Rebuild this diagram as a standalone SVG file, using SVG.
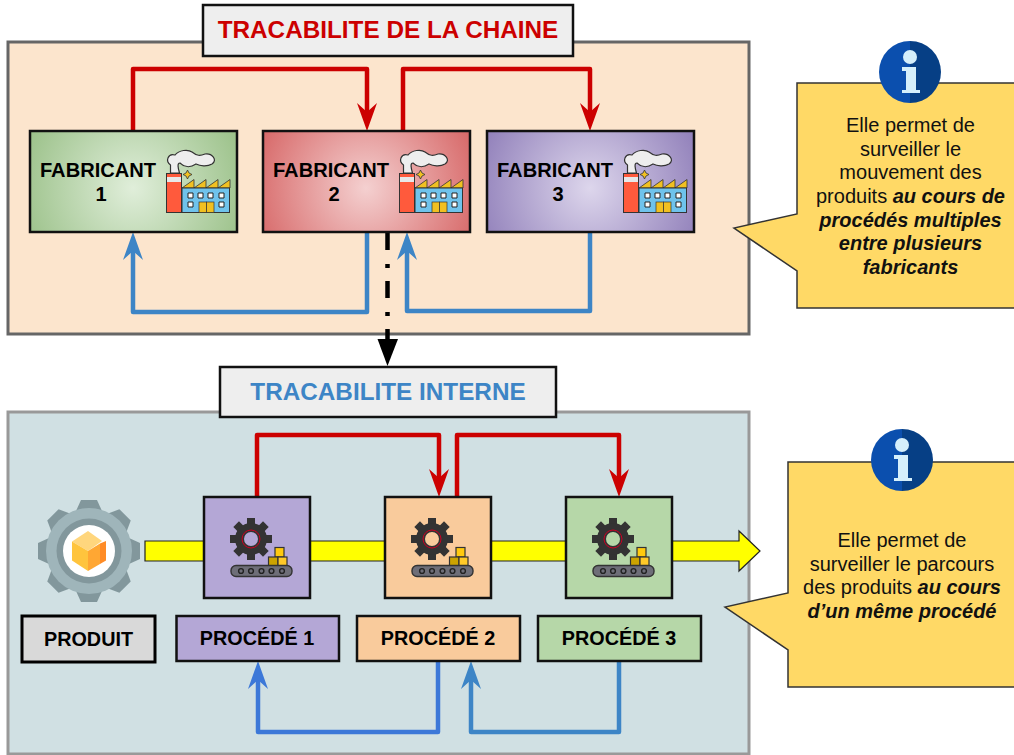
<svg xmlns="http://www.w3.org/2000/svg" width="1014" height="755" viewBox="0 0 1014 755">
<style>
text{font-family:"Liberation Sans",Arial,sans-serif;text-anchor:middle;fill:#000}
.title{font-size:24.300px;font-weight:bold}
.nodeT{font-size:20.100px;font-weight:bold}
.lab{font-size:19.800px;font-weight:bold}
.body{font-size:20px;fill:#111}
.em{font-weight:bold;font-style:italic}
.box{stroke:#111;stroke-width:2.500}
.r{fill:none;stroke:#cc0000;stroke-width:4.500;stroke-linejoin:round;marker-end:url(#ar)}
.b{fill:none;stroke:#3d85c6;stroke-width:4.500;stroke-linejoin:round;marker-end:url(#ab)}
.b2{fill:none;stroke:#3c78d8;stroke-width:4.500;stroke-linejoin:round;marker-end:url(#ab2)}
.call{fill:#ffd966;stroke:#333;stroke-width:1.500}
</style>
<defs>
<marker id="ar" markerUnits="userSpaceOnUse" markerWidth="30" markerHeight="22" viewBox="0 0 30 22" refX="10" refY="11" orient="auto"><path d="M0,1 L28,11 L0,21 L9,11 Z" fill="#cc0000"/></marker>
<marker id="ab" markerUnits="userSpaceOnUse" markerWidth="30" markerHeight="22" viewBox="0 0 30 22" refX="10" refY="11" orient="auto"><path d="M0,1 L28,11 L0,21 L9,11 Z" fill="#3d85c6"/></marker>
<marker id="ab2" markerUnits="userSpaceOnUse" markerWidth="30" markerHeight="22" viewBox="0 0 30 22" refX="10" refY="11" orient="auto"><path d="M0,1 L28,11 L0,21 L9,11 Z" fill="#3c78d8"/></marker>
<radialGradient id="g1" gradientUnits="userSpaceOnUse" cx="133" cy="188" r="118"><stop offset="0" stop-color="#e0eeda"/><stop offset="1" stop-color="#9bc189"/></radialGradient>
<radialGradient id="g2" gradientUnits="userSpaceOnUse" cx="366" cy="188" r="118"><stop offset="0" stop-color="#f4d0d0"/><stop offset="1" stop-color="#d76868"/></radialGradient>
<radialGradient id="g3" gradientUnits="userSpaceOnUse" cx="590" cy="188" r="118"><stop offset="0" stop-color="#ddd6ec"/><stop offset="1" stop-color="#9180ba"/></radialGradient>
<g id="factory">
<path d="M170.500,173 L170.500,165 C165,161 168,153 175,155 C179,150 188,149 192,152 C197,156 200,156 205,154 C212,153 218,160 212,164 C207,167 200,166 196,164 C190,168 184,167 180,163 C177,163 178,168 179.500,173 Z" fill="#eeeeee" stroke="#333" stroke-width="1.200"/>
<rect x="166.500" y="173.500" width="15" height="39" fill="#ff5a3c" stroke="#333" stroke-width="1"/>
<rect x="167" y="177" width="14" height="5" fill="#e8e8e8"/>
<path d="M187.500,170 L189,173 L192,174.500 L189,176 L187.500,179 L186,176 L183,174.500 L186,173 Z" fill="#f1c021" stroke="#333" stroke-width="0.800"/>
<path d="M182,188 L194,179.500 L194,188 Z M194,188 L206,179.500 L206,188 Z M206,188 L218,179.500 L218,188 Z M218,188 L230,179.500 L230,188 Z" fill="#f1c021" stroke="#333" stroke-width="0.800"/>
<rect x="182" y="188" width="47.500" height="24.500" fill="#6fc3ec" stroke="#333" stroke-width="1"/>
<path d="M188,193 h5 v5 h-5 Z M198,193 h5 v5 h-5 Z M208,193 h5 v5 h-5 Z M219,193 h5 v5 h-5 Z M188,202 h5 v5 h-5 Z M219,202 h5 v5 h-5 Z" fill="#fff" stroke="#222" stroke-width="1"/>
<rect x="199" y="202" width="7.500" height="10.500" fill="#f1c021" stroke="#333" stroke-width="0.700"/>
<rect x="206.500" y="202" width="7.500" height="10.500" fill="#f1c021" stroke="#333" stroke-width="0.700"/>
</g>
<g id="smallGear">
<g fill="#333">
<rect x="247" y="518" width="8" height="8"/>
<rect x="247" y="518" width="8" height="8" transform="rotate(45 251 539)"/>
<rect x="247" y="518" width="8" height="8" transform="rotate(90 251 539)"/>
<rect x="247" y="518" width="8" height="8" transform="rotate(135 251 539)"/>
<rect x="247" y="518" width="8" height="8" transform="rotate(180 251 539)"/>
<rect x="247" y="518" width="8" height="8" transform="rotate(225 251 539)"/>
<rect x="247" y="518" width="8" height="8" transform="rotate(270 251 539)"/>
<rect x="247" y="518" width="8" height="8" transform="rotate(315 251 539)"/>
</g>
<circle cx="251" cy="539" r="11.500" fill="none" stroke="#333" stroke-width="9"/>
<circle cx="251" cy="539" r="9" fill="none" stroke="#cc0022" stroke-width="1"/>
<rect x="275" y="547.500" width="9" height="9.500" fill="#ffc90e" stroke="#333" stroke-width="1.200"/>
<rect x="268.500" y="557" width="9.500" height="9" fill="#cca300" stroke="#333" stroke-width="1.200"/>
<rect x="278" y="557" width="9" height="9" fill="#ffc928" stroke="#333" stroke-width="1.200"/>
<rect x="231" y="565.500" width="61" height="11" rx="5" fill="#6e6e78" stroke="#333" stroke-width="1.400"/>
<g fill="#6e6e78" stroke="#222" stroke-width="1.400">
<circle cx="241" cy="571" r="2.400"/><circle cx="251" cy="571" r="2.400"/><circle cx="261.500" cy="571" r="2.400"/><circle cx="271.500" cy="571" r="2.400"/><circle cx="282" cy="571" r="2.400"/>
</g>
</g>
<g id="info">
<path d="M0,-31 A31,31 0 0 0 0,31 Z" fill="#0b4fae"/>
<path d="M0,-31 A31,31 0 0 1 0,31 Z" fill="#063f85"/>
<circle cx="0" cy="-15" r="7" fill="#d5effb"/>
<path d="M-8,-5 H6 V18 H10 V21 H-8 V18 H-4 V-1 H-8 Z" fill="#d5effb"/>
</g>
<path id="tooth" d="M76,511 L81,500 L97,500 L102,511 Z" fill="#82979c"/>
</defs>

<g id="panel-chaine"><rect x="8" y="42" width="741" height="292" fill="#fce5cd" stroke="#666" stroke-width="3"/></g>
<g id="panel-interne"><rect x="8" y="412" width="741" height="342" fill="#d0e0e3" stroke="#999" stroke-width="3"/></g>
<g id="title-chaine"><rect x="203" y="5" width="370" height="51" fill="#eeeeee" stroke="#111" stroke-width="2.500"/><text class="title" x="388" y="38" style="fill:#cc0000">TRACABILITE DE LA CHAINE</text></g>
<g id="title-interne"><rect x="220" y="367" width="336" height="50" fill="#eeeeee" stroke="#111" stroke-width="2.500"/><text class="title" x="388" y="400" style="fill:#3d85c6">TRACABILITE INTERNE</text></g>

<g id="connectors">
<polygon points="145,541 739,541 739,531 760,551 739,571 739,561 145,561" fill="#ffff00" stroke="#222" stroke-width="1.200"/>
<path class="r" d="M133,131 V69 H367 V113"/>
<path class="r" d="M403,132 V69 H590 V113"/>
<path class="b" d="M367,232 V312 H133 V250"/>
<path class="b" d="M590,232 V311 H407 V250"/>
<path class="r" d="M257,497 V435 H439 V479"/>
<path class="r" d="M457,499 V435 H619 V479"/>
<path class="b2" d="M438,661 V732 H258 V679"/>
<path class="b" d="M619,661 V732 H471 V679"/>
<path d="M387.500,233 V340" fill="none" stroke="#000" stroke-width="4.500" stroke-dasharray="17 14 4 13"/>
<polygon points="377.500,339 398,339 387.500,366" fill="#000"/>
</g>

<g id="fabricant-1"><rect class="box" x="30" y="131" width="207" height="101" fill="url(#g1)"/><text class="nodeT" x="98" y="177">FABRICANT</text><text class="nodeT" x="101" y="201">1</text><use href="#factory"/></g>
<g id="fabricant-2"><rect class="box" x="263" y="131" width="207" height="101" fill="url(#g2)"/><text class="nodeT" x="331" y="177">FABRICANT</text><text class="nodeT" x="334" y="201">2</text><use href="#factory" x="233"/></g>
<g id="fabricant-3"><rect class="box" x="487" y="131" width="207" height="101" fill="url(#g3)"/><text class="nodeT" x="555" y="177">FABRICANT</text><text class="nodeT" x="558" y="201">3</text><use href="#factory" x="457"/></g>

<g id="produit-icon">
<use href="#tooth" transform="rotate(0 89 551)"/><use href="#tooth" transform="rotate(45 89 551)"/><use href="#tooth" transform="rotate(90 89 551)"/><use href="#tooth" transform="rotate(135 89 551)"/><use href="#tooth" transform="rotate(180 89 551)"/><use href="#tooth" transform="rotate(225 89 551)"/><use href="#tooth" transform="rotate(270 89 551)"/><use href="#tooth" transform="rotate(315 89 551)"/>
<circle cx="89" cy="551" r="43" fill="#9fb5ba"/>
<circle cx="89" cy="551" r="32.500" fill="#82979c"/>
<circle cx="89" cy="551" r="26" fill="#ffffff"/>
<polygon points="72,541.500 88,531 102,541 88,551" fill="#ffd67d"/>
<polygon points="72,541.500 88,551 88,571 72,560.500" fill="#ffc43d"/>
<polygon points="88,551 100,543.500 100,564 88,571" fill="#ffa733"/>
<polygon points="100,543.500 106,541 106,560.500 100,564" fill="#ff8c26"/>
</g>
<g id="produit"><rect x="22" y="616" width="133" height="46" fill="#d9d9d9" stroke="#000" stroke-width="3"/><text class="lab" x="88.500" y="645.500">PRODUIT</text></g>

<g id="procede-1-box"><rect class="box" x="204" y="497" width="106" height="101" fill="#b4a7d6"/><use href="#smallGear"/></g>
<g id="procede-2-box"><rect class="box" x="385" y="497" width="106" height="101" fill="#f9cb9c"/><use href="#smallGear" x="181"/></g>
<g id="procede-3-box"><rect class="box" x="566" y="497" width="106" height="101" fill="#b6d7a8"/><use href="#smallGear" x="362"/></g>
<g id="procede-1"><rect class="box" x="176.500" y="616" width="162.500" height="45" fill="#b4a7d6"/><text class="lab" x="257" y="645">PROCÉDÉ 1</text></g>
<g id="procede-2"><rect class="box" x="357" y="616" width="163" height="45" fill="#f9cb9c"/><text class="lab" x="438" y="645">PROCÉDÉ 2</text></g>
<g id="procede-3"><rect class="box" x="538" y="616" width="163" height="45" fill="#b6d7a8"/><text class="lab" x="619" y="645">PROCÉDÉ 3</text></g>

<g id="info-chaine">
<path class="call" d="M797,83 H1016 V308 H797 V271 L734,228 L797,214 Z"/>
<use href="#info" transform="translate(910 72)"/>
<text class="body" x="910.500" y="132">Elle permet de</text>
<text class="body" x="910.500" y="155.500">surveiller le</text>
<text class="body" x="910.500" y="179">mouvement des</text>
<text class="body" x="910.500" y="203">produits <tspan class="em">au cours de</tspan></text>
<text class="body em" x="910.500" y="226.500">procédés multiples</text>
<text class="body em" x="910.500" y="250">entre plusieurs</text>
<text class="body em" x="910.500" y="273.500">fabricants</text>
</g>
<g id="info-interne">
<path class="call" d="M788,462 H1016 V687 H788 V650 L725,607 L788,593 Z"/>
<use href="#info" transform="translate(902 460)"/>
<text class="body" x="902" y="547">Elle permet de</text>
<text class="body" x="902" y="570.500">surveiller le parcours</text>
<text class="body" x="902" y="594">des produits <tspan class="em">au cours</tspan></text>
<text class="body em" x="902" y="617.500">d’un même procédé</text>
</g>
</svg>
